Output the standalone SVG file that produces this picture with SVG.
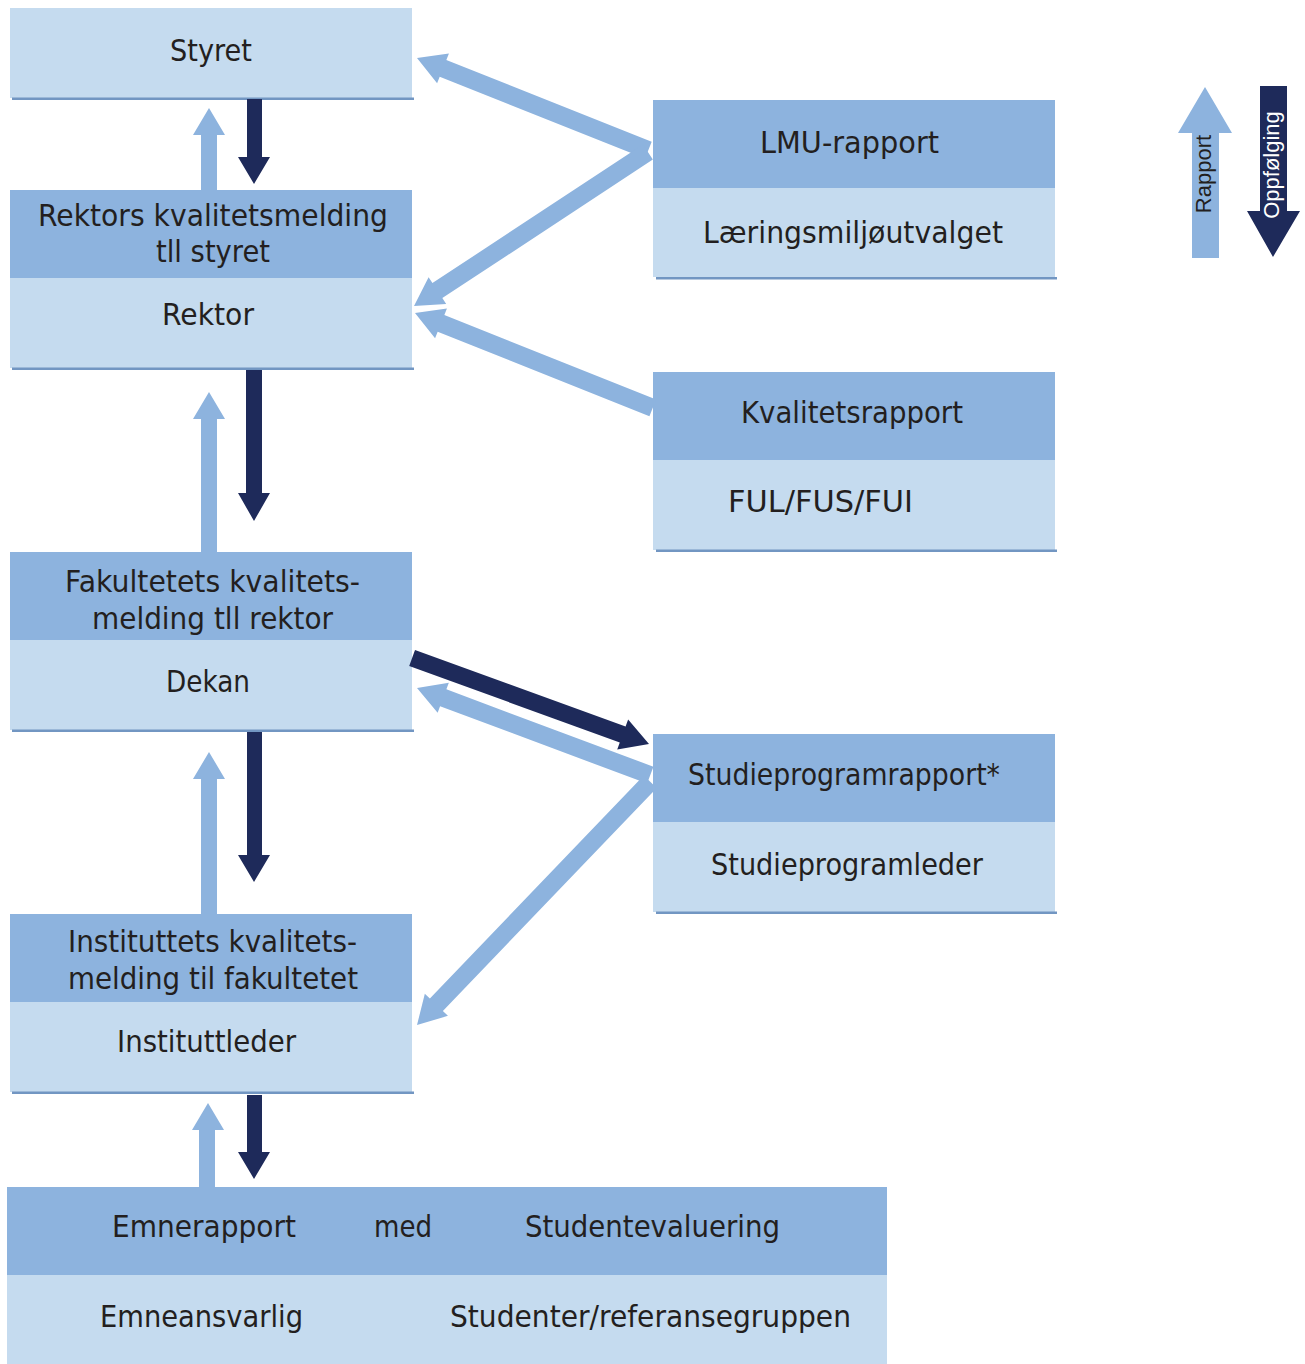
<svg xmlns="http://www.w3.org/2000/svg" width="1305" height="1364" viewBox="0 0 1305 1364">
<style>
.lt{fill:#C5DBEF}
.md{fill:#8DB3DE}
.ln{fill:#7296C2}
.up{fill:#8DB3DE}
.dn{fill:#1E2A5A}
text{font-family:"DejaVu Sans","Liberation Sans",sans-serif;font-size:30px;fill:#231F20}
text.cond{font-family:"DejaVu Sans Condensed","DejaVu Sans",sans-serif;font-stretch:condensed;font-size:31px}
text.leg{font-family:"Liberation Sans",Arial,sans-serif;font-size:22px}
</style>
<rect width="1305" height="1364" fill="#FFFFFF"/>

<g id="styret">
<rect class="lt" x="10" y="8" width="402" height="90"/>
<rect class="ln" x="12" y="97.5" width="402" height="2.5"/>
<text x="170" y="61" textLength="82" lengthAdjust="spacingAndGlyphs">Styret</text>
</g>

<g id="rektor">
<rect class="md" x="10" y="190" width="402" height="88"/>
<rect class="lt" x="10" y="278" width="402" height="90"/>
<rect class="ln" x="12" y="367.5" width="402" height="2.5"/>
<text x="38" y="226" textLength="350" lengthAdjust="spacingAndGlyphs">Rektors kvalitetsmelding</text>
<text x="156" y="262" textLength="114" lengthAdjust="spacingAndGlyphs">tll styret</text>
<text x="162" y="325" textLength="92" lengthAdjust="spacingAndGlyphs">Rektor</text>
</g>

<g id="dekan">
<rect class="md" x="10" y="552" width="402" height="88"/>
<rect class="lt" x="10" y="640" width="402" height="90"/>
<rect class="ln" x="12" y="729.5" width="402" height="2.5"/>
<text x="65" y="592" textLength="295" lengthAdjust="spacingAndGlyphs">Fakultetets kvalitets-</text>
<text x="92" y="629" textLength="241" lengthAdjust="spacingAndGlyphs">melding tll rektor</text>
<text x="166" y="692" textLength="84" lengthAdjust="spacingAndGlyphs">Dekan</text>
</g>

<g id="instituttleder">
<rect class="md" x="10" y="914" width="402" height="88"/>
<rect class="lt" x="10" y="1002" width="402" height="90"/>
<rect class="ln" x="12" y="1091.5" width="402" height="2.5"/>
<text x="68" y="952" textLength="289" lengthAdjust="spacingAndGlyphs">Instituttets kvalitets-</text>
<text x="68" y="989" textLength="290" lengthAdjust="spacingAndGlyphs">melding til fakultetet</text>
<text x="117" y="1052" textLength="179" lengthAdjust="spacingAndGlyphs">Instituttleder</text>
</g>

<g id="emne">
<rect class="md" x="7" y="1187" width="880" height="88"/>
<rect class="lt" x="7" y="1275" width="880" height="89"/>
<text class="cond" x="112" y="1237" textLength="184" lengthAdjust="spacingAndGlyphs">Emnerapport</text>
<text class="cond" x="374" y="1237" textLength="58" lengthAdjust="spacingAndGlyphs">med</text>
<text class="cond" x="525" y="1237" textLength="255" lengthAdjust="spacingAndGlyphs">Studentevaluering</text>
<text class="cond" x="100" y="1327" textLength="203" lengthAdjust="spacingAndGlyphs">Emneansvarlig</text>
<text class="cond" x="450" y="1327" textLength="401" lengthAdjust="spacingAndGlyphs">Studenter/referansegruppen</text>
</g>

<g id="lmu">
<rect class="md" x="653" y="100" width="402" height="88"/>
<rect class="lt" x="653" y="188" width="402" height="89"/>
<rect class="ln" x="656" y="277" width="401" height="2.5"/>
<text x="760" y="153" textLength="179" lengthAdjust="spacingAndGlyphs">LMU-rapport</text>
<text x="703" y="243" textLength="300" lengthAdjust="spacingAndGlyphs">Læringsmiljøutvalget</text>
</g>

<g id="kvalitetsrapport">
<rect class="md" x="653" y="372" width="402" height="88"/>
<rect class="lt" x="653" y="460" width="402" height="90"/>
<rect class="ln" x="656" y="549.5" width="401" height="2.5"/>
<text x="741" y="423" textLength="222" lengthAdjust="spacingAndGlyphs">Kvalitetsrapport</text>
<text x="728" y="512" textLength="185" lengthAdjust="spacingAndGlyphs">FUL/FUS/FUI</text>
</g>

<g id="studieprogram">
<rect class="md" x="653" y="734" width="402" height="88"/>
<rect class="lt" x="653" y="822" width="402" height="90"/>
<rect class="ln" x="656" y="911.5" width="401" height="2.5"/>
<text x="688" y="785" textLength="312" lengthAdjust="spacingAndGlyphs">Studieprogramrapport*</text>
<text x="711" y="875" textLength="272" lengthAdjust="spacingAndGlyphs">Studieprogramleder</text>
</g>

<g id="connectors">
<polygon class="up" points="209,108 225,135 217,135 217,190 201,190 201,135 193,135"/>
<polygon class="up" points="209,392 225,419 217,419 217,552 201,552 201,419 193,419"/>
<polygon class="up" points="209,752 225,779 217,779 217,914 201,914 201,779 193,779"/>
<polygon class="up" points="208,1103 224,1130 215,1130 215,1187 199,1187 199,1130 192,1130"/>
<polygon class="dn" points="254,184 270,157 262,157 262,99 247,99 247,157 238,157"/>
<polygon class="dn" points="254,521 270,493 262,493 262,370 246,370 246,493 238,493"/>
<polygon class="dn" points="254,882 270,855 262,855 262,732 247,732 247,855 238,855"/>
<polygon class="dn" points="254,1179 270,1152 262,1152 262,1095 247,1095 247,1152 238,1152"/>
<polygon class="up" transform="translate(417,58) rotate(-158.3)" points="0,0 -28,-16 -28,-9 -249,-9 -249,9 -28,9 -28,16"/>
<polygon class="up" transform="translate(414,306) rotate(146.65)" points="0,0 -28,-16 -28,-9 -280,-9 -280,9 -28,9 -28,16"/>
<polygon class="up" transform="translate(415,313) rotate(-158.24)" points="0,0 -28,-16 -28,-9 -256,-9 -256,9 -28,9 -28,16"/>
<polygon class="dn" transform="translate(649,744) rotate(19.94)" points="0,0 -28,-16 -28,-8.5 -252,-8.5 -252,8.5 -28,8.5 -28,16"/>
<polygon class="up" transform="translate(417,688) rotate(-159.52)" points="0,0 -28,-16 -28,-9 -249,-9 -249,9 -28,9 -28,16"/>
<polygon class="up" transform="translate(417,1025) rotate(133.8)" points="0,0 -28,-16 -28,-9 -337,-9 -337,9 -28,9 -28,16"/>
</g>

<g id="legend">
<polygon class="up" points="1205,87 1232,133 1219,133 1219,258 1192,258 1192,133 1178,133"/>
<text class="leg" transform="translate(1211,174) rotate(-90)" text-anchor="middle">Rapport</text>
<polygon class="dn" points="1273,257 1300,211 1287,211 1287,86 1260,86 1260,211 1247,211"/>
<text class="leg" transform="translate(1279,165) rotate(-90)" text-anchor="middle" style="fill:#FFFFFF">Oppfølging</text>
</g>
</svg>
